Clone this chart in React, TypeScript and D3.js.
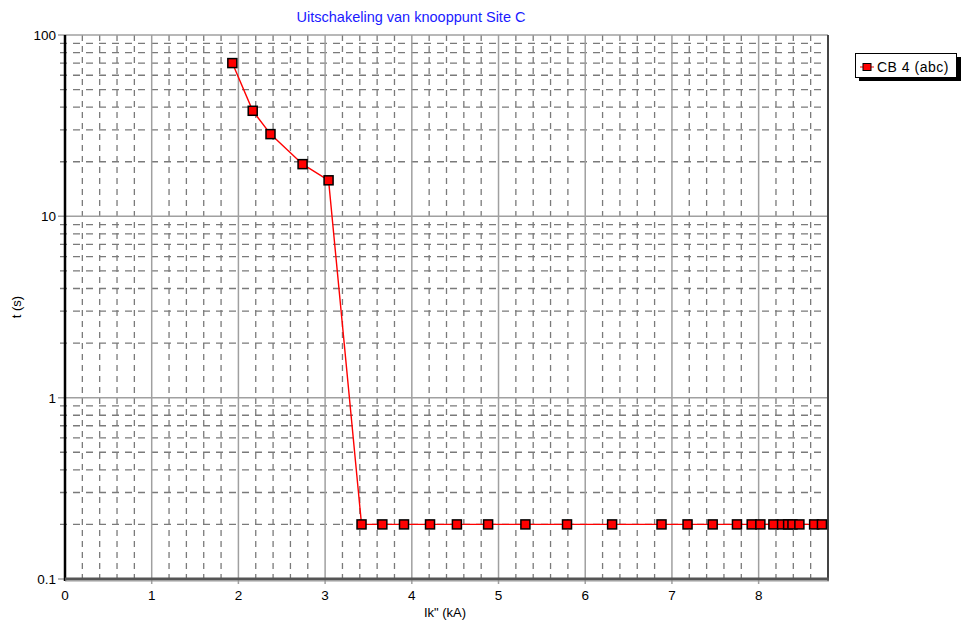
import React from "react";
import * as d3 from "d3";

const title = "Uitschakeling van knooppunt Site C";
const xLabel = 'Ik" (kA)';
const yLabel = "t (s)";
const seriesName = "CB 4 (abc)";

const currentKA = [1.93, 2.165, 2.37, 2.74, 3.04, 3.42, 3.66, 3.91, 4.21, 4.52, 4.88, 5.31, 5.79, 6.31, 6.88, 7.18, 7.47, 7.75, 7.92, 8.02, 8.17, 8.27, 8.34, 8.39, 8.47, 8.64, 8.73];
const timeS = [70, 38.2, 28.4, 19.4, 15.8, 0.2, 0.2, 0.2, 0.2, 0.2, 0.2, 0.2, 0.2, 0.2, 0.2, 0.2, 0.2, 0.2, 0.2, 0.2, 0.2, 0.2, 0.2, 0.2, 0.2, 0.2, 0.2];

const xTicks = [0, 1, 2, 3, 4, 5, 6, 7, 8];
const yTicks = [0.1, 1, 10, 100];
const yTickLabels = ["0.1", "1", "10", "100"];

export default function App() {
  const W = 962, H = 620;
  const L = 65, R = 828, T = 35, B = 579;
  const x = d3.scaleLinear().domain([0, 8.8]).range([L, R]);
  const y = d3.scaleLog().domain([0.1, 100]).range([B, T]);

  const minorX: number[] = [];
  for (let i = 0; i <= 44; i++) {
    const v = i * 0.2;
    if (Math.abs(v - Math.round(v)) > 1e-6) minorX.push(v);
  }
  const minorY: number[] = [];
  [0.1, 1, 10].forEach((d) => {
    for (let k = 2; k <= 9; k++) minorY.push(d * k);
  });

  const line = d3
    .line<number>()
    .x((_, i) => x(currentKA[i]))
    .y((d) => y(d));

  const font = "Arial, 'Liberation Sans', sans-serif";
  const gridDash = "#7a7a7a";
  const gridMajor = "#a0a0a0";

  return (
    <svg width={W} height={H} style={{ position: "absolute", left: 0, top: 0 }} fontFamily={font}>
      <rect x={0} y={0} width={W} height={H} fill="#fff" />
      <text x={411} y={22} textAnchor="middle" fontSize={14.5} fill="#1a1aff">
        {title}
      </text>
      {minorX.map((v) => (
        <line key={"mx" + v} x1={x(v)} x2={x(v)} y1={T} y2={B + 5} stroke={gridDash} strokeWidth={1.3} strokeDasharray="6,5" />
      ))}
      {minorY.map((v) => (
        <line key={"my" + v} x1={L - 5} x2={R} y1={y(v)} y2={y(v)} stroke={gridDash} strokeWidth={1.3} strokeDasharray="7,6" />
      ))}
      {xTicks.slice(1).map((v) => (
        <line key={"Mx" + v} x1={x(v)} x2={x(v)} y1={T} y2={B + 5} stroke={gridMajor} strokeWidth={1.5} />
      ))}
      {yTicks.map((v) => (
        <line key={"My" + v} x1={L - 7} x2={R} y1={y(v)} y2={y(v)} stroke={gridMajor} strokeWidth={1.5} />
      ))}
      <line x1={L} x2={L} y1={T} y2={B + 2} stroke="#000" strokeWidth={2.5} />
      <line x1={R} x2={R} y1={T} y2={B + 2} stroke="#444" strokeWidth={2} />
      <line x1={L} x2={R + 1} y1={B} y2={B} stroke="#555" strokeWidth={3} />
      <line x1={L} x2={R + 1} y1={B + 2} y2={B + 2} stroke="#999" strokeWidth={1} />
      {yTicks.map((v, i) => (
        <text key={"yl" + v} x={L - 9} y={y(v) + 5} textAnchor="end" fontSize={13.5} fill="#000">
          {yTickLabels[i]}
        </text>
      ))}
      {xTicks.map((v) => (
        <text key={"xl" + v} x={x(v)} y={B + 21} textAnchor="middle" fontSize={13.5} fill="#000">
          {v}
        </text>
      ))}
      <text x={445} y={617} textAnchor="middle" fontSize={13} fill="#000">
        {xLabel}
      </text>
      <text transform={`translate(21,${(T + B) / 2}) rotate(-90)`} textAnchor="middle" fontSize={13} fill="#000">
        {yLabel}
      </text>
      <path d={line(timeS) || ""} fill="none" stroke="#ff0000" strokeWidth={1.4} />
      {timeS.map((v, i) => (
        <rect key={"p" + i} x={x(currentKA[i]) - 4.5} y={y(v) - 4.5} width={9} height={9} fill="#ff0000" stroke="#000" strokeWidth={1.5} />
      ))}
      <rect x={859} y={57} width={102} height={24} fill="#000" />
      <rect x={855.5} y={53.5} width={101} height={24} fill="#fff" stroke="#000" strokeWidth={1} />
      <line x1={860} x2={874} y1={67} y2={67} stroke="#ff0000" strokeWidth={1} />
      <rect x={863} y={63.5} width={8} height={7} fill="#ff0000" stroke="#000" strokeWidth={1} />
      <text x={877} y={71.5} fontSize={14} letterSpacing={0.5} fill="#000">
        {seriesName}
      </text>
    </svg>
  );
}
